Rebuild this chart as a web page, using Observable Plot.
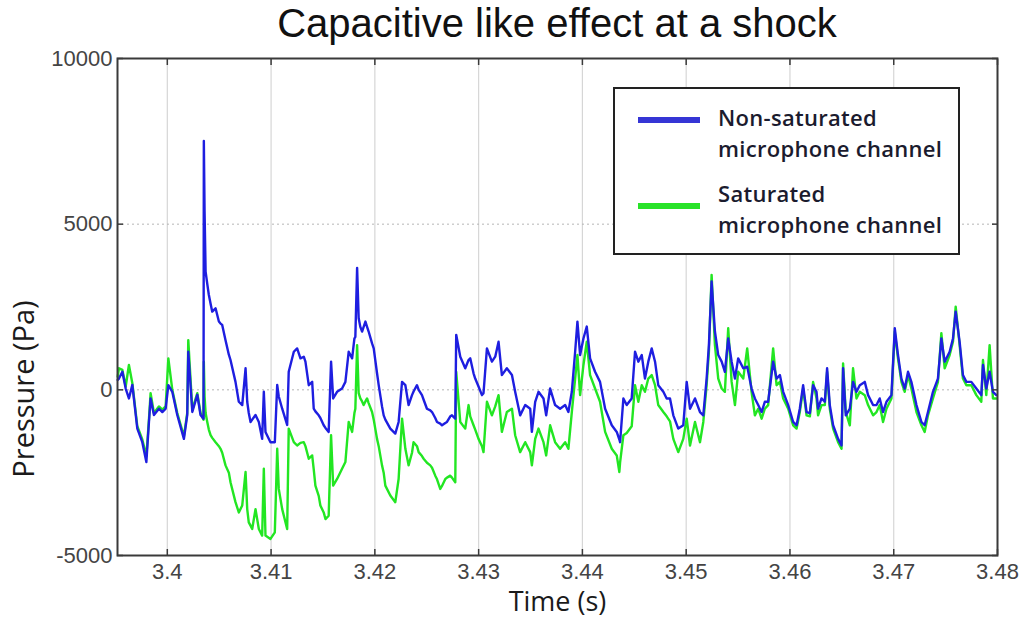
<!DOCTYPE html>
<html>
<head>
<meta charset="utf-8">
<script src="https://cdn.jsdelivr.net/npm/d3@7"></script>
<script src="https://cdn.jsdelivr.net/npm/@observablehq/plot@0.6"></script>
<style>
  html, body { margin: 0; padding: 0; background: #fff; }
  #wrap { position: relative; width: 1026px; height: 621px; overflow: hidden; }
  #title { height: 45px; line-height: 47px; padding-left: 117px; width: 880px; text-align: center;
           font-family: "Liberation Sans", Arial, sans-serif; font-size: 40px; color: #111; white-space: nowrap; }
  #legend { position: absolute; left: 613px; top: 87px; width: 343px; height: 164px; border: 2px solid #222; background: #fff; }
  .sw { position: absolute; left: 23px; width: 62px; height: 6px; }
  .lt { position: absolute; left: 103px; font-family: "Open Sans", sans-serif; font-weight: 600; font-size: 22px; letter-spacing: 0.3px; line-height: 31px; color: #1b1b2e; white-space: nowrap; }
</style>
</head>
<body>
<div id="wrap">
  <div id="title">Capacitive like effect at a shock</div>
  <div id="chart"></div>
  <div id="legend"></div>
</div>
<script>
const seriesNames = ["Non-saturated microphone channel", "Saturated microphone channel"];
const legendLines = [["Non-saturated", "microphone channel"], ["Saturated", "microphone channel"]];
const seriesColors = ["#1e1ee0", "#22e622"];
const legendColors = ["#3535d5", "#29e329"];

const xTicks = [3.40, 3.41, 3.42, 3.43, 3.44, 3.45, 3.46, 3.47, 3.48];
const xTickLabels = ["3.4", "3.41", "3.42", "3.43", "3.44", "3.45", "3.46", "3.47", "3.48"];
const yTicks = [-5000, 0, 5000, 10000];
const yTickLabels = ["-5000", "0", "5000", "10000"];
const xDomain = [3.3952, 3.48];
const yDomain = [-5000, 10000];

const time = [3.39522,3.39534,3.39567,3.39599,3.39630,3.39663,3.39711,3.39759,3.39798,3.39823,3.39839,3.39871,3.39919,3.39952,3.39984,3.40010,3.40048,3.40096,3.40160,3.40192,3.40202,3.40241,3.40289,3.40320,3.40349,3.40352,3.40359,3.40369,3.40385,3.40400,3.40417,3.40433,3.40465,3.40497,3.40513,3.40529,3.40561,3.40593,3.40609,3.40657,3.40689,3.40722,3.40754,3.40770,3.40785,3.40802,3.40818,3.40850,3.40882,3.40914,3.40930,3.40946,3.40994,3.41036,3.41059,3.41074,3.41107,3.41155,3.41170,3.41219,3.41251,3.41283,3.41315,3.41331,3.41363,3.41396,3.41411,3.41427,3.41459,3.41475,3.41507,3.41524,3.41555,3.41578,3.41598,3.41636,3.41684,3.41716,3.41748,3.41781,3.41803,3.41812,3.41829,3.41844,3.41860,3.41877,3.41892,3.41909,3.41925,3.41940,3.41973,3.41989,3.42021,3.42037,3.42069,3.42085,3.42101,3.42149,3.42197,3.42229,3.42262,3.42294,3.42325,3.42358,3.42373,3.42406,3.42422,3.42454,3.42470,3.42502,3.42534,3.42551,3.42582,3.42599,3.42630,3.42647,3.42679,3.42695,3.42727,3.42743,3.42775,3.42784,3.42823,3.42871,3.42903,3.42919,3.42951,3.42967,3.42999,3.43032,3.43047,3.43080,3.43128,3.43160,3.43192,3.43224,3.43272,3.43321,3.43352,3.43400,3.43449,3.43497,3.43513,3.43545,3.43577,3.43625,3.43651,3.43689,3.43737,3.43785,3.43834,3.43865,3.43898,3.43930,3.43952,3.43978,3.44010,3.44042,3.44074,3.44122,3.44170,3.44219,3.44283,3.44331,3.44356,3.44363,3.44395,3.44427,3.44475,3.44507,3.44539,3.44572,3.44603,3.44635,3.44668,3.44700,3.44731,3.44780,3.44812,3.44844,3.44876,3.44924,3.44972,3.45005,3.45037,3.45085,3.45133,3.45165,3.45197,3.45219,3.45245,3.45277,3.45309,3.45342,3.45373,3.45405,3.45438,3.45470,3.45501,3.45550,3.45588,3.45630,3.45662,3.45694,3.45727,3.45758,3.45790,3.45838,3.45871,3.45903,3.45935,3.45983,3.46031,3.46064,3.46095,3.46127,3.46160,3.46192,3.46223,3.46256,3.46271,3.46304,3.46336,3.46358,3.46384,3.46416,3.46464,3.46497,3.46512,3.46538,3.46577,3.46608,3.46641,3.46673,3.46721,3.46753,3.46801,3.46834,3.46865,3.46897,3.46930,3.46978,3.47010,3.47041,3.47074,3.47106,3.47138,3.47170,3.47219,3.47267,3.47298,3.47330,3.47378,3.47426,3.47459,3.47491,3.47539,3.47571,3.47597,3.47635,3.47667,3.47700,3.47748,3.47796,3.47844,3.47860,3.47892,3.47924,3.47956,3.47989];

const nonSaturated = [300,340,545,40,-260,150,-1170,-1580,-2180,-970,-260,-760,-570,-670,-570,140,-60,-760,-1480,-760,1150,-670,-150,-760,-870,7510,5390,3570,3200,2870,2600,2360,2460,2060,2000,1960,1500,1060,900,240,-360,-460,650,-360,-700,-970,-900,-760,-970,-1480,-60,-1270,-1580,-1580,150,-200,-570,-1060,545,1150,1250,950,1000,850,140,240,-570,-650,-770,-850,-1070,-1150,-1270,850,-260,-60,40,240,1150,950,1550,1600,3680,2160,1900,1760,1900,2060,1900,1760,1400,1250,500,140,-500,-770,-900,-1170,-1320,-970,240,140,-460,-160,-50,140,0,-160,-300,-570,-620,-670,-850,-970,-1020,-1070,-1000,-970,-800,-770,-870,1660,1000,650,900,950,500,340,100,-160,-100,1250,850,1000,1450,445,650,445,-60,-770,-460,-570,-1270,-360,-60,-260,-770,40,-460,-570,-460,-670,-60,1150,2060,1050,1550,1910,950,545,240,-570,-1070,-1270,-1500,-1580,-260,-460,-260,1150,850,1050,340,850,1250,850,140,-60,-260,-260,-770,-1170,-1070,240,-570,-260,-670,-770,340,1350,3270,1760,1050,850,545,1550,850,340,950,650,700,40,-260,-460,-670,-360,-360,850,340,445,-60,-460,-970,-1070,-570,140,-670,-700,140,-60,-570,-260,-360,650,-460,-1070,-1480,-1680,650,-770,-570,240,-60,140,240,-160,-460,-460,-260,-670,-360,-160,1860,1050,340,40,545,240,-460,-970,-1070,-670,-60,340,1550,850,1150,1550,2360,1450,445,240,240,40,-160,750,40,545,-60,-160];

const saturated = [400,650,600,100,750,200,-1100,-1500,-2000,-900,-100,-700,-500,-600,-500,950,0,-700,-1400,-700,1500,-600,-100,-700,-900,850,-200,-700,-970,-1200,-1370,-1450,-1580,-1700,-1780,-1900,-2280,-2500,-2790,-3390,-3700,-3490,-2480,-3600,-4000,-4100,-4200,-3600,-4200,-4400,-2380,-4400,-4500,-4300,-1780,-2990,-3600,-4200,-1170,-1580,-1680,-1600,-1580,-1700,-2080,-1980,-2400,-2890,-3200,-3490,-3700,-3900,-3800,-1370,-2890,-2690,-2380,-2180,-970,-1270,-700,-570,1350,-100,-260,-350,-460,-350,-260,-400,-670,-900,-1480,-1700,-2280,-2500,-2890,-3190,-3390,-2690,-870,-1780,-2280,-1900,-1580,-1700,-1880,-2000,-2080,-2200,-2280,-2350,-2590,-2700,-2990,-2900,-2690,-2650,-2590,-2650,-2790,545,-970,-1170,-460,-800,-1070,-1200,-1480,-1700,-1880,-360,-770,-500,-160,-1270,-670,-570,-1370,-1880,-1580,-1880,-2280,-1480,-1170,-1580,-1980,-1070,-1580,-1780,-1580,-1780,-670,340,1050,-160,750,1450,445,40,-360,-1270,-1780,-1980,-2480,-2200,-1370,-1300,-1100,140,-360,140,-60,340,445,140,-460,-670,-800,-950,-1480,-1880,-1480,-870,-1680,-970,-1580,-970,140,1150,3470,1350,340,40,-60,1860,240,-460,545,340,1250,-60,-770,-570,-870,-570,-460,1250,140,240,-260,-570,-1070,-1170,-670,40,-770,-800,240,-260,-770,-460,-460,545,-570,-1170,-1580,-1780,800,-670,-1070,650,-260,-60,-160,-460,-770,-670,-460,-970,-570,-260,1760,950,240,-60,445,40,-670,-1070,-1270,-770,-260,240,1710,650,1050,1450,2510,1350,340,140,140,-160,-360,900,-160,1350,-260,-260];

const rows = time.map((t, i) => ({t, nonSaturated: nonSaturated[i], saturated: saturated[i]}));
const fmtX = d => xTickLabels[xTicks.indexOf(d)];
const fmtY = d => yTickLabels[yTicks.indexOf(d)];
const axisColor = "#3a3a3a";

const chart = Plot.plot({
  width: 1026,
  height: 576,
  marginLeft: 117,
  marginRight: 29,
  marginTop: 13,
  marginBottom: 66,
  x: {domain: xDomain, label: null},
  y: {domain: yDomain, label: null},
  style: {fontFamily: "'Liberation Sans', Arial, sans-serif", fontSize: "22px", color: "#444", background: "white", overflow: "visible"},
  marks: [
    Plot.gridX(xTicks, {stroke: "#d6d6d6", strokeOpacity: 1, strokeWidth: 1.2}),
    Plot.gridY([0, 5000], {stroke: "#b5b5b5", strokeOpacity: 1, strokeDasharray: "2,3"}),
    Plot.line(rows, {x: "t", y: "saturated", stroke: seriesColors[1], strokeWidth: 2.4}),
    Plot.line(rows, {x: "t", y: "nonSaturated", stroke: seriesColors[0], strokeWidth: 2.4}),
    Plot.frame({stroke: axisColor, strokeWidth: 2}),
    Plot.axisX(xTicks, {anchor: "bottom", tickSize: -6, fill: "none", stroke: axisColor, strokeWidth: 1.5, label: null}),
    Plot.axisX(xTicks, {anchor: "top", tickSize: -6, fill: "none", stroke: axisColor, strokeWidth: 1.5, label: null}),
    Plot.axisX(xTicks, {anchor: "bottom", tickSize: 0, tickPadding: 8, fill: "#444", fontSize: 22, tickFormat: fmtX, label: null}),
    Plot.axisY(yTicks, {anchor: "left", tickSize: -6, fill: "none", stroke: axisColor, strokeWidth: 1.5, label: null}),
    Plot.axisY(yTicks, {anchor: "right", tickSize: -6, fill: "none", stroke: axisColor, strokeWidth: 1.5, label: null}),
    Plot.axisY(yTicks, {anchor: "left", tickSize: 0, tickPadding: 5, fill: "#444", fontSize: 22, tickFormat: fmtY, label: null}),
    Plot.text(["Time (s)"], {text: d => d, frameAnchor: "bottom", lineAnchor: "middle", textAnchor: "middle", dy: 47, fontSize: 27, fontFamily: "'Open Sans', sans-serif", fill: "#1a1a1a"}),
    Plot.text(["Pressure (Pa)"], {text: d => d, frameAnchor: "left", lineAnchor: "middle", textAnchor: "middle", rotate: -90, dx: -93, dy: 82, fontSize: 29, fontFamily: "'Open Sans', sans-serif", fill: "#1a1a1a"})
  ]
});
document.getElementById("chart").appendChild(chart);

// legend
const legend = document.getElementById("legend");
const swatchTops = [28, 114];
const textTops = [13, 89];
legendLines.forEach((lines, i) => {
  const sw = document.createElement("div");
  sw.className = "sw";
  sw.style.top = swatchTops[i] + "px";
  sw.style.background = legendColors[i];
  legend.appendChild(sw);
  const tx = document.createElement("div");
  tx.className = "lt";
  tx.style.top = textTops[i] + "px";
  tx.innerHTML = lines.join("<br>");
  tx.title = seriesNames[i];
  legend.appendChild(tx);
});
</script>
</body>
</html>
